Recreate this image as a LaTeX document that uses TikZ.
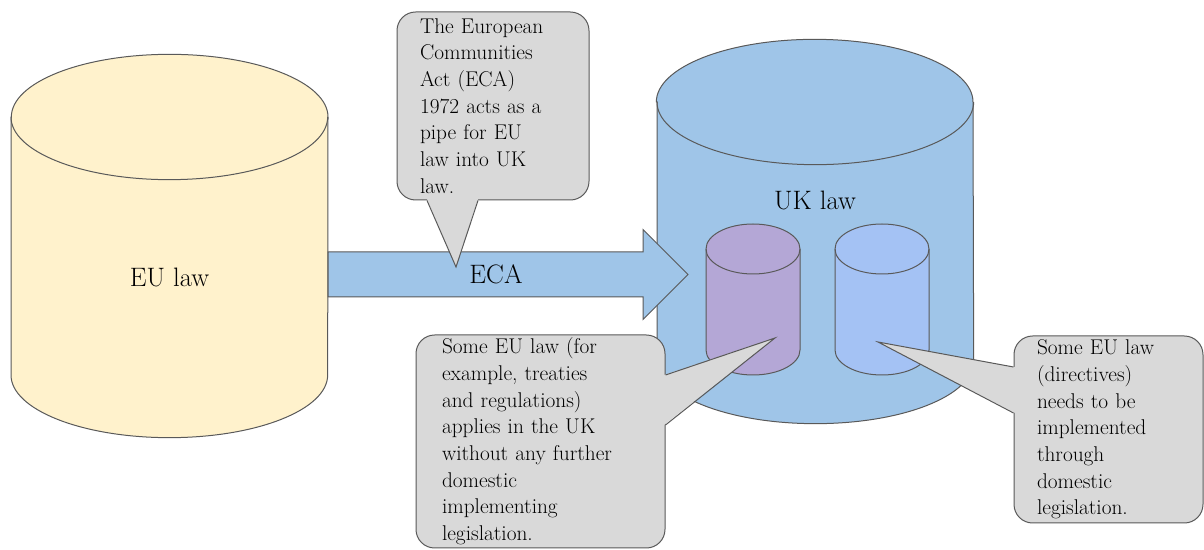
\documentclass[tikz,border=0pt]{standalone}
\usetikzlibrary{calc}
\definecolor{eufill}{HTML}{FFF2CC}
\definecolor{ukfill}{HTML}{9FC5E8}
\definecolor{directfill}{HTML}{B4A7D6}
\definecolor{implfill}{HTML}{A4C2F4}
\definecolor{notefill}{HTML}{D9D9D9}
\definecolor{rim}{HTML}{595959}
\tikzset{
  drum/.style={draw=rim,line width=0.75pt},
  bigrad/.style={x radius=118.75pt,y radius=47pt},
  smallrad/.style={x radius=35.25pt,y radius=18.75pt},
  pipe/.style={draw=rim,fill=ukfill,line width=0.75pt},
  bigtext/.style={font=\fontsize{20}{24}\selectfont},
  note/.style={draw=rim,fill=notefill,line width=0.75pt,rounded corners=14pt,align=left,inner ysep=0pt,font=\fontsize{16}{20}\selectfont},
  pointer/.style={draw=rim,line width=0.75pt}
}
\begin{document}
\begin{tikzpicture}[x=0.75pt,y=0.75pt]
\useasboundingbox (0,0) rectangle (1204,550);

%stores
\draw[drum,fill=eufill] (11,433) -- (11,175) arc[bigrad,start angle=180,end angle=360] -- (328,433) arc[bigrad,start angle=0,end angle=180] -- cycle;
\draw[drum] (11,433) arc[bigrad,start angle=180,end angle=360];

\draw[drum,fill=ukfill] (657,448) -- (657,189) arc[bigrad,start angle=180,end angle=360] -- (973,448) arc[bigrad,start angle=0,end angle=180] -- cycle;
\draw[drum] (657,448) arc[bigrad,start angle=180,end angle=360];

\draw[drum,fill=directfill] (706,301) -- (706,200) arc[smallrad,start angle=180,end angle=360] -- (800,301) arc[smallrad,start angle=0,end angle=180] -- cycle;
\draw[drum] (706,301) arc[smallrad,start angle=180,end angle=360];

\draw[drum,fill=implfill] (835,301) -- (835,200) arc[smallrad,start angle=180,end angle=360] -- (929,301) arc[smallrad,start angle=0,end angle=180] -- cycle;
\draw[drum] (835,301) arc[smallrad,start angle=180,end angle=360];

%pipe
\coordinate (eurim) at (328,275.5);
\coordinate (ukin) at (688,275.5);
\draw[pipe] (eurim) ++(0,22.5) -- ++(315,0) -- ++(0,22.5) -- (ukin) -- ++(-45,-45) -- ++(0,22.5) -- ++(-315,0) -- cycle;

%labels
\node[bigtext] (eulab) at (169.5,272.5) {EU law};
\node[bigtext] (uklab) at (815,349.5) {UK law};
\node[bigtext] (ecalab) at (496,276) {ECA};

%notes
\node[note,minimum width=144pt,minimum height=141pt,text width=109.5pt,inner xsep=17.25pt] (note1) at (493,444) {The European\\Communities\\Act (ECA)\\1972 acts as a\\pipe for EU\\law into UK\\law.};
\coordinate (tip1) at (456,283);
\fill[notefill] ($(note1.south)+(-66,1.5)$) -- (tip1) -- ($(note1.south)+(-15,1.5)$) -- cycle;
\draw[pointer] ($(note1.south)+(-66,0)$) -- (tip1) -- ($(note1.south)+(-15,0)$);

\node[note,minimum width=186.75pt,minimum height=159.75pt,text width=147.75pt,inner xsep=19.5pt] (note2) at (540.5,108.5) {Some EU law (for\\example, treaties\\and regulations)\\applies in the UK\\without any further\\domestic\\implementing\\legislation.};
\coordinate (tip2) at (775,212);
\fill[notefill] ($(note2.east)+(-1.5,66.5)$) -- (tip2) -- ($(note2.east)+(-1.5,16.5)$) -- cycle;
\draw[pointer] ($(note2.east)+(0,66.5)$) -- (tip2) -- ($(note2.east)+(0,16.5)$);

\node[note,minimum width=141.75pt,minimum height=140.25pt,text width=107.25pt,inner xsep=17.25pt] (note3) at (1108.5,120.5) {Some EU law\\(directives)\\needs to be\\implemented\\through\\domestic\\legislation.};
\coordinate (tip3) at (878,208);
\fill[notefill] ($(note3.west)+(1.5,62.5)$) -- (tip3) -- ($(note3.west)+(1.5,16.5)$) -- cycle;
\draw[pointer] ($(note3.west)+(0,62.5)$) -- (tip3) -- ($(note3.west)+(0,16.5)$);
\end{tikzpicture}
\end{document}
